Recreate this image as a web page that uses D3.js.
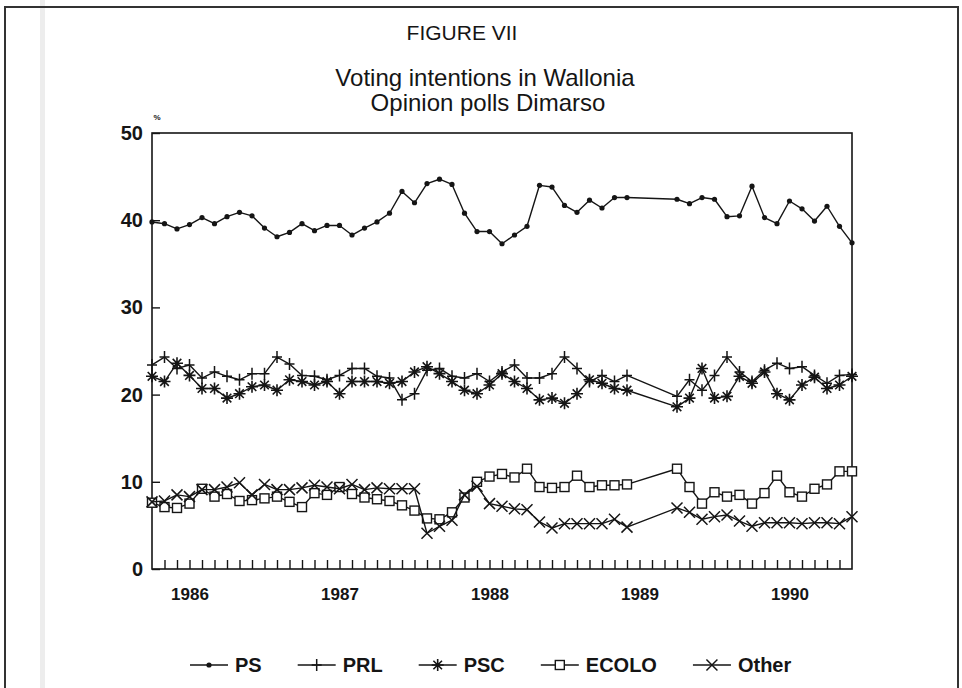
<!DOCTYPE html>
<html><head><meta charset="utf-8">
<script src="https://cdn.jsdelivr.net/npm/d3@7"></script>
<style>body{margin:0;background:#fff} svg{display:block}</style>
</head><body>
<svg id="c" width="962" height="688"></svg>
<script>
// month index: 0 = Oct 1985 ... 56 = Jun 1990
const months = [0,1,2,3,4,5,6,7,8,9,10,11,12,13,14,15,16,17,18,19,20,21,22,23,24,25,26,27,28,29,30,31,32,33,34,35,36,37,38,42,43,44,45,46,47,48,49,50,51,52,53,54,55,56];
const PS = [39.8,39.6,39.0,39.5,40.3,39.6,40.4,40.9,40.5,39.1,38.1,38.6,39.6,38.8,39.4,39.4,38.3,39.1,39.8,40.8,43.3,42.0,44.2,44.7,44.1,40.8,38.7,38.7,37.3,38.3,39.3,44.0,43.8,41.7,40.9,42.3,41.4,42.6,42.6,42.4,41.9,42.6,42.4,40.4,40.5,43.9,40.3,39.6,42.2,41.3,39.9,41.6,39.3,37.4];
const PRL = [23.4,24.3,23.0,23.4,21.9,22.6,22.1,21.7,22.4,22.4,24.3,23.5,22.2,22.1,21.7,22.2,23.0,23.0,22.1,21.9,19.4,20.1,22.8,23.0,22.1,21.9,22.4,21.5,22.6,23.4,21.9,21.9,22.4,24.3,23.0,21.5,22.2,21.5,22.2,19.8,21.7,20.5,22.2,24.3,22.6,21.5,22.8,23.6,23.0,23.2,22.2,21.3,22.2,22.3];
const PSC = [22.1,21.5,23.6,22.2,20.7,20.7,19.6,20.1,20.9,21.1,20.5,21.7,21.5,21.1,21.5,20.1,21.5,21.5,21.5,21.3,21.5,22.6,23.2,22.4,21.5,20.5,20.1,21.1,22.4,21.5,20.7,19.4,19.6,19.0,20.1,21.7,21.3,20.7,20.5,18.6,19.6,23.0,19.6,19.8,22.1,21.3,22.6,20.1,19.4,21.1,22.0,20.7,21.1,22.1];
const ECOLO = [7.6,7.1,7.0,7.5,9.2,8.3,8.6,7.8,7.9,8.1,8.3,7.7,7.1,8.7,8.5,9.4,8.6,8.2,8.0,7.8,7.3,6.7,5.8,5.7,6.5,8.2,10.0,10.6,10.9,10.5,11.5,9.4,9.3,9.4,10.7,9.4,9.6,9.6,9.7,11.5,9.4,7.5,8.8,8.3,8.5,7.5,8.7,10.7,8.8,8.3,9.2,9.7,11.2,11.2];
const Other = [7.7,7.8,8.5,8.3,9.1,9.1,9.4,9.9,8.5,9.7,9.1,9.1,9.3,9.6,9.4,9.2,9.7,9.1,9.3,9.2,9.2,9.2,4.1,4.9,5.6,8.5,9.5,7.5,7.2,6.9,6.8,5.4,4.7,5.2,5.2,5.2,5.2,5.7,4.8,7.0,6.5,5.7,6.0,6.2,5.5,4.9,5.3,5.3,5.3,5.2,5.3,5.3,5.2,6.0];
const seriesNames = ["PS","PRL","PSC","ECOLO","Other"];
const yearLabels = ["1986","1987","1988","1989","1990"];
const yearMonths = [3,15,27,39,51];
const yTicks = [0,10,20,30,40,50];

const svg = d3.select("#c");
const ink = "#151515";
const x = d3.scaleLinear().domain([0,56]).range([152,852]);
const y = d3.scaleLinear().domain([0,50]).range([569,133]);

// scan artifacts / outer frame
svg.append("rect").attr("x",40).attr("y",0).attr("width",5).attr("height",688).attr("fill","#ededed");
svg.append("rect").attr("x",5).attr("y",7).attr("width",953).attr("height",700)
  .attr("fill","none").attr("stroke","#333").attr("stroke-width",2);

// titles
const tf = "'Liberation Sans', Arial, sans-serif";
svg.append("text").attr("x",462).attr("y",40).attr("text-anchor","middle")
  .attr("font-family",tf).attr("font-size",21).attr("fill",ink).text("FIGURE VII");
svg.append("text").attr("x",485).attr("y",86).attr("text-anchor","middle")
  .attr("font-family",tf).attr("font-size",24).attr("fill",ink).text("Voting intentions in Wallonia");
svg.append("text").attr("x",488).attr("y",111).attr("text-anchor","middle")
  .attr("font-family",tf).attr("font-size",24).attr("fill",ink).text("Opinion polls Dimarso");
svg.append("text").attr("x",157).attr("y",120).attr("text-anchor","middle")
  .attr("font-family",tf).attr("font-size",8).attr("font-weight","bold").attr("fill",ink).text("%");

// axes
const gx = svg.append("g").attr("transform","translate(0,569)")
  .call(d3.axisBottom(x).tickValues(d3.range(1,56)).tickSize(-9).tickFormat(""));
gx.select(".domain").remove();
gx.selectAll("line").attr("stroke",ink).attr("stroke-width",1.4);

const gyl = svg.append("g").attr("transform","translate(0,569)")
  .call(d3.axisBottom(x).tickValues(yearMonths).tickSize(0).tickPadding(19).tickFormat((d,i)=>yearLabels[i]));
gyl.select(".domain").remove();
gyl.selectAll("text").attr("font-family",tf).attr("font-size",17).attr("font-weight","bold").attr("fill",ink);

const gy = svg.append("g").attr("transform","translate(152,0)")
  .call(d3.axisLeft(y).tickValues(yTicks).tickSize(-8).tickPadding(9));
gy.select(".domain").remove();
gy.selectAll("line").attr("stroke",ink).attr("stroke-width",1.4);
gy.selectAll("text").attr("font-family",tf).attr("font-size",20).attr("font-weight","bold").attr("fill",ink);

// plot frame
svg.append("rect").attr("x",x(0)).attr("y",y(50)).attr("width",x(56)-x(0)).attr("height",y(0)-y(50))
  .attr("fill","none").attr("stroke",ink).attr("stroke-width",1.6);

// markers
const markers = {
  PS: g => g.append("circle").attr("r",2.6).attr("fill",ink),
  PRL: g => g.append("path").attr("d","M-5,0H5M0,-6V6").attr("stroke",ink).attr("stroke-width",1.5).attr("fill","none"),
  PSC: g => g.append("path").attr("d","M-6,0H6M0,-6V6M-4.3,-4.3L4.3,4.3M-4.3,4.3L4.3,-4.3").attr("stroke",ink).attr("stroke-width",1.6).attr("fill","none"),
  ECOLO: g => g.append("rect").attr("x",-4.5).attr("y",-4.5).attr("width",9).attr("height",9).attr("fill","#fff").attr("stroke",ink).attr("stroke-width",1.4),
  Other: g => g.append("path").attr("d","M-5.5,-5.5L5.5,5.5M-5.5,5.5L5.5,-5.5").attr("stroke",ink).attr("stroke-width",1.5).attr("fill","none")
};
const dataMap = {PS, PRL, PSC, ECOLO, Other};
const line = d3.line().x(d=>x(d[0])).y(d=>y(d[1]));

seriesNames.forEach(name => {
  const pts = months.map((m,i)=>[m, dataMap[name][i]]);
  svg.append("path").datum(pts).attr("d",line).attr("fill","none")
    .attr("stroke",ink).attr("stroke-width",1.4).attr("stroke-linejoin","round");
  svg.append("g").selectAll("g").data(pts).join("g")
    .attr("transform",d=>`translate(${x(d[0])},${y(d[1])})`)
    .each(function(){ markers[name](d3.select(this)); });
});

// legend
let lx = 190;
const ly = 665;
seriesNames.forEach(name => {
  const g = svg.append("g").attr("transform",`translate(${lx},${ly})`);
  g.append("line").attr("x1",0).attr("x2",38).attr("y1",0).attr("y2",0).attr("stroke",ink).attr("stroke-width",1.4);
  markers[name](g.append("g").attr("transform","translate(19,0)"));
  const t = g.append("text").attr("x",45).attr("y",7).attr("font-family",tf).attr("font-size",20)
    .attr("font-weight","bold").attr("fill",ink).text(name);
  lx += 45 + t.node().getComputedTextLength() + 36;
});
</script>
</body></html>
